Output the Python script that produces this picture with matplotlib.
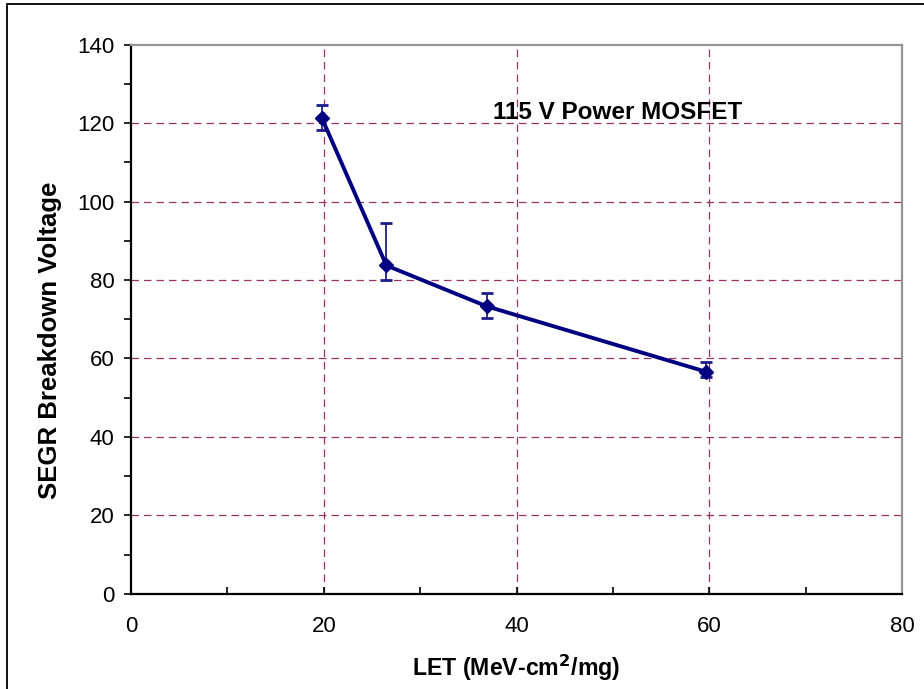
import numpy as np
import matplotlib
matplotlib.use("Agg")
import matplotlib.pyplot as plt
from matplotlib.patches import Rectangle

# values
let = [19.8, 26.5, 36.9, 59.7]
vbd = [121.3, 83.7, 73.3, 56.6]
err_lo = [3.1, 3.6, 3.1, 1.2]
err_hi = [3.3, 10.7, 3.3, 2.4]
xticks = [0, 20, 40, 60, 80]
yticks = [0, 20, 40, 60, 80, 100, 120, 140]

plt.rcParams['font.family'] = ['Liberation Sans', 'DejaVu Sans']

fig = plt.figure(figsize=(9.24, 6.89), dpi=100)
ax = fig.add_axes([0.1418, 0.1379, 0.9762 - 0.1418, 0.9354 - 0.1379])

# outer frame (only top and left show in the reference)
fig.patches.append(Rectangle((7 / 924, -0.05), 1.2, 1 - 4 / 689 + 0.05,
                             transform=fig.transFigure, fill=False,
                             edgecolor='black', linewidth=1.3))

grid_col = '#993366'
for x in [20, 40, 60]:
    ax.axvline(x, color=grid_col, linestyle=(0, (6, 4)), linewidth=0.9, zorder=1)
for y in [20, 40, 60, 80, 100, 120]:
    ax.axhline(y, color=grid_col, linestyle=(0, (6, 4)), linewidth=0.9, zorder=1)

ax.errorbar(let, vbd, yerr=[err_lo, err_hi], fmt='none', ecolor='#1c1c8c',
            elinewidth=1.3, capsize=4.5, capthick=2.0, zorder=3)
ax.plot(let, vbd, color='#000080', linewidth=2.8, marker='D', markersize=7.5,
        markerfacecolor='#000080', markeredgecolor='#000080', zorder=4)

ax.set_xlim(0, 80)
ax.set_ylim(0, 140)
ax.set_xticks(xticks)
ax.set_yticks(yticks)
ax.set_xticks(np.arange(10, 80, 20), minor=True)
ax.set_yticks(np.arange(10, 140, 20), minor=True)

ax.tick_params(axis='y', which='both', direction='out', length=5, width=1.2,
               labelsize=16, pad=7)
ax.tick_params(axis='x', which='both', direction='in', length=5, width=1.2,
               labelsize=16, pad=16)

for s in ['left', 'bottom']:
    ax.spines[s].set_color('black')
    ax.spines[s].set_linewidth(1.6)
for s in ['top', 'right']:
    ax.spines[s].set_color('#959595')
    ax.spines[s].set_linewidth(1.6)

ax.set_xlabel('LET (MeV-cm$^\\mathbf{2}$/mg)', fontsize=16.7, fontweight='bold',
              labelpad=11)
ax.set_ylabel('SEGR Breakdown Voltage', fontsize=18.5, fontweight='bold')
ax.yaxis.set_label_coords(-0.09, 0.462)

ax.text(50.5, 122.7, '115 V Power MOSFET', fontsize=17.5, fontweight='bold',
        ha='center', va='center', zorder=5)

fig.savefig('out.png', dpi=100)
